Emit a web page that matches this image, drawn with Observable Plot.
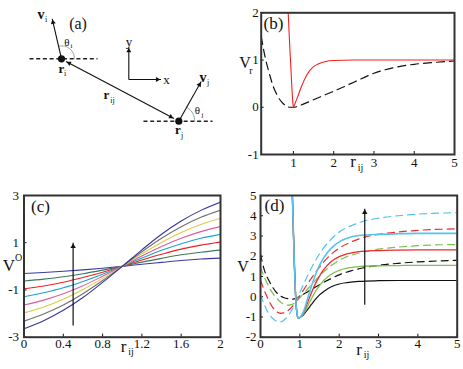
<!DOCTYPE html>
<html><head><meta charset="utf-8">
<script src="https://cdn.jsdelivr.net/npm/d3@7"></script>
<script src="https://cdn.jsdelivr.net/npm/@observablehq/plot@0.6"></script>
<style>
body{margin:0;background:#fff;}
#fig{position:relative;width:463px;height:369px;overflow:hidden;background:#fff;}
#fig svg{position:absolute;}
</style></head><body><div id="fig"></div>
<script>
// ---------- panel (a): schematic (diagram units) ----------
const diagParticles = [{x:61,y:58.3},{x:178.3,y:120.7}];
const diagDashed = [{x1:29,y1:58.3,x2:97,y2:58.3},{x1:143,y1:120.7,x2:212,y2:120.7}];
const diagArrows = [
  {x1:61,y1:58.3,x2:51.7,y2:18.3},
  {x1:178.3,y1:120.7,x2:200.7,y2:81},
  {x1:128.3,y1:79,x2:128.3,y2:46.7},
  {x1:128.3,y1:79,x2:160.5,y2:79},
  {x1:119.6,y1:89.5,x2:65.5,y2:61},
  {x1:119.6,y1:89.5,x2:173.5,y2:118}
];
const thetaIArc = [{x:58.7,y:45.5},{x:64.4,y:45.7},{x:69.4,y:48.3},{x:72.8,y:52.8},{x:74,y:58.3}];
const thetaJArc = [{x:186.3,y:106.8},{x:190.6,y:110.4},{x:193.3,y:115.2},{x:194.3,y:120.7}];

// ---------- panel (b) ----------
const bXTicks = [1,2,3,4,5];
const bYTicks = [-1,0,1,2];
const bRedX = [0.87,0.9,0.93,0.96,0.99,1.0,1.05,1.1,1.2,1.3,1.4,1.5,1.6,1.8,2.0,2.5,3,4,5];
const bRedY = [2.0,1.45,0.95,0.45,0.06,0.0,0.1,0.21,0.44,0.63,0.77,0.86,0.91,0.97,0.99,1.0,1.0,1.0,1.0];
const bDashX = [0.2,0.3,0.4,0.5,0.6,0.7,0.8,0.9,1.0,1.2,1.5,2.0,2.5,3.0,3.5,4.0,4.5,5.0];
const bDashY = [1.5,1.05,0.72,0.44,0.25,0.12,0.04,0.0,0.0,0.05,0.16,0.34,0.53,0.72,0.84,0.91,0.95,0.98];

// ---------- panel (c) ----------
const cXTicks = [0,0.4,0.8,1.2,1.6,2];
const cYTicks = [-3,-1,1,3];
const cX = [0,0.2,0.4,0.6,0.8,1.0,1.2,1.4,1.6,1.8,2.0];
const c1 = [-0.30,-0.26,-0.21,-0.15,-0.08,0,0.09,0.17,0.25,0.31,0.35];
const c2 = [-0.62,-0.54,-0.44,-0.31,-0.16,0,0.18,0.34,0.49,0.60,0.69];
const c3 = [-0.95,-0.83,-0.67,-0.47,-0.25,0,0.27,0.51,0.73,0.90,1.03];
const c4 = [-1.29,-1.12,-0.91,-0.64,-0.33,0,0.35,0.68,0.96,1.19,1.36];
const c5 = [-1.64,-1.43,-1.16,-0.82,-0.42,0,0.44,0.84,1.19,1.47,1.69];
const c6 = [-1.97,-1.72,-1.39,-0.98,-0.51,0,0.53,1.01,1.43,1.77,2.03];
const c7 = [-2.32,-2.02,-1.64,-1.16,-0.60,0,0.62,1.19,1.68,2.08,2.38];
const c8 = [-2.64,-2.30,-1.86,-1.32,-0.68,0,0.70,1.36,1.92,2.37,2.72];
const cSeries = [c1,c2,c3,c4,c5,c6,c7,c8];
const cColors = ["#3b3ba0","#3a7a5a","#f02020","#1aa3d1","#d9609c","#d9cd45","#707070","#3535a0"];
const cArrow = [{x:0.5,y1:-2.5,y2:1.0}];

// ---------- panel (d) ----------
const dXTicks = [0,1,2,3,4,5];
const dYTicks = [-2,-1,0,1,2,3,4,5];
const dSolidX = [0.81,0.83,0.85,0.87,0.89,0.91,0.93,0.95,0.97,1.0,1.05,1.1,1.2,1.3,1.4,1.5,1.6,1.8,2.0,2.2,2.5,3.0,3.5,4.0,5.0];
const dWall = [5.0,3.6,2.3,1.1,0.15,-0.5,-0.88,-1.03,-1.07,-1.03];
const dSolidBlack = [...dWall,-0.97,-0.88,-0.63,-0.37,-0.12,0.09,0.25,0.49,0.63,0.70,0.76,0.79,0.80,0.80,0.80];
const dSolidGreen = [...dWall,-0.95,-0.83,-0.46,-0.08,0.27,0.55,0.79,1.11,1.30,1.41,1.49,1.53,1.54,1.55,1.55];
const dSolidRed   = [...dWall,-0.93,-0.76,-0.28,0.22,0.66,1.02,1.32,1.74,1.98,2.12,2.23,2.28,2.30,2.31,2.31];
const dSolidCyan  = [...dWall,-0.91,-0.70,-0.08,0.55,1.10,1.55,1.90,2.40,2.71,2.89,3.02,3.08,3.11,3.13,3.13];
const dDashX = [0,0.1,0.2,0.3,0.4,0.5,0.6,0.7,0.8,0.9,1.0,1.2,1.4,1.6,1.8,2.0,2.3,2.6,3.0,3.5,4.0,5.0];
const dDashBlack = [2.1,1.3,0.85,0.5,0.22,0.05,-0.05,-0.1,-0.12,-0.08,0.02,0.25,0.48,0.7,0.9,1.08,1.28,1.42,1.55,1.65,1.72,1.8];
const dDashGreen = [1.45,0.95,0.55,0.2,-0.05,-0.25,-0.38,-0.42,-0.38,-0.25,-0.05,0.38,0.82,1.22,1.54,1.8,2.05,2.2,2.35,2.45,2.52,2.58];
const dDashRed   = [0.8,0.3,-0.15,-0.5,-0.72,-0.82,-0.8,-0.68,-0.5,-0.25,0.05,0.65,1.2,1.7,2.1,2.4,2.7,2.92,3.08,3.2,3.28,3.35];
const dDashCyan  = [0.1,-0.4,-0.8,-1.05,-1.2,-1.25,-1.15,-0.95,-0.65,-0.25,0.2,1.05,1.8,2.4,2.85,3.2,3.5,3.72,3.88,4.0,4.08,4.15];
const dColors = {black:"#111111", green:"#7cc050", red:"#ee2a2a", cyan:"#55c3ec"};
const dArrow = [{x:2.65,y1:-0.4,y2:4.35}];

// ---------- helpers ----------
const SERIF = "'Liberation Serif','Times New Roman',serif";
const fig = document.getElementById("fig");
const zip = (xs, ys) => xs.map((x,i) => ({x, y: ys[i]}));
const fmt = d => String(d);

function place(svg, box){ svg.style.left = box.x+"px"; svg.style.top = box.y+"px"; fig.appendChild(svg); }
function lab(box, text, px, py, size, extra={}) {
  return Plot.text([text], {text: d=>d, frameAnchor:"top-left", dx: px-(box.x+box.ml), dy: py-(box.y+box.mt),
    fontSize: size, textAnchor:"middle", lineAnchor:"middle", fontFamily: SERIF, fill:"#111", ...extra});
}
function panel(box, opts, marks){
  const svg = Plot.plot({width: box.w, height: box.h, marginLeft: box.ml, marginRight: box.mr,
    marginTop: box.mt, marginBottom: box.mb,
    style:{fontFamily: SERIF, fontSize:"13px", background:"transparent", overflow:"visible", color:"#111"},
    ...opts, marks});
  place(svg, box);
}
function axes(xt, yt, xpad, ypad){
  return [
    Plot.axisX({ticks: xt, tickSize: -3, tickPadding: xpad, tickFormat: fmt, label: null, fontSize: 13}),
    Plot.axisY({ticks: yt, tickSize: -3, tickPadding: ypad, tickFormat: fmt, label: null, fontSize: 13})
  ];
}

// ---------- (a) ----------
{
  const box = {x:0,y:0,w:230,h:160,ml:0,mr:0,mt:0,mb:0};
  const heads = diagArrows.map(a => { const dx=a.x2-a.x1, dy=a.y2-a.y1, L=Math.hypot(dx,dy);
    return {x:a.x2-dx/L*3.6, y:a.y2-dy/L*3.6, rot: Math.atan2(dx,-dy)*180/Math.PI}; });
  panel(box, {x:{domain:[0,230],range:[0,230],axis:null}, y:{domain:[0,160],range:[0,160],axis:null}}, [
    Plot.link(diagDashed, {x1:"x1",y1:"y1",x2:"x2",y2:"y2", stroke:"#222", strokeWidth:1.4, strokeDasharray:"4,2.7"}),
    Plot.line(thetaIArc, {x:"x",y:"y", curve:"catmull-rom", stroke:"#888", strokeWidth:0.8}),
    Plot.line(thetaJArc, {x:"x",y:"y", curve:"catmull-rom", stroke:"#888", strokeWidth:0.8}),
    Plot.link(diagArrows, {x1:"x1",y1:"y1",x2:"x2",y2:"y2", stroke:"#111", strokeWidth:1.1}),
    Plot.dot(heads, {x:"x",y:"y", symbol:"triangle2", r:2.4, rotate:"rot", fill:"#111", stroke:"none"}),
    Plot.dot(diagParticles, {x:"x",y:"y", r:3.6, fill:"#111", stroke:"none"}),
    lab(box,"(a)",77.5,23,16),
    lab(box,"v",40.5,14,14,{fontWeight:"bold"}), lab(box,"i",45.5,18.5,8),
    lab(box,"θ",66.5,41.5,11), lab(box,"i",71,45.5,7),
    lab(box,"r",61,68,13,{fontWeight:"bold"}), lab(box,"i",64.5,72.5,8),
    lab(box,"y",128.5,41,13), lab(box,"x",166,79.5,13),
    lab(box,"r",106,94.5,13,{fontWeight:"bold"}), lab(box,"ij",112,99.5,8),
    lab(box,"v",202.5,77,14,{fontWeight:"bold"}), lab(box,"j",207.5,82,8),
    lab(box,"θ",197,110,11), lab(box,"j",202,114.5,7),
    lab(box,"r",177.5,129.5,13,{fontWeight:"bold"}), lab(box,"j",181.5,134.5,8)
  ]);
}

// ---------- (b) ----------
{
  const box = {x:230,y:0,w:233,h:185,ml:30.7,mr:9,mt:12.3,mb:31};
  panel(box, {x:{domain:[0.2,5]}, y:{domain:[-1,2]}}, [
    ...axes(bXTicks, bYTicks, 6.3, 5.5),
    Plot.line(zip(bDashX,bDashY), {x:"x",y:"y", curve:"monotone-x", stroke:"#111", strokeWidth:1.2, strokeDasharray:"8,5", clip:true}),
    Plot.line(zip(bRedX,bRedY), {x:"x",y:"y", curve:"monotone-x", stroke:"#ee2222", strokeWidth:1.1, clip:true}),
    Plot.frame({stroke:"#333", strokeWidth:2}),
    lab(box,"(b)",273,23.5,17),
    lab(box,"V",244.5,62,16), lab(box,"r",250.5,70,10),
    lab(box,"r",352.5,161,17), lab(box,"ij",360,167,10)
  ]);
}

// ---------- (c) ----------
{
  const box = {x:0,y:180,w:232,h:189,ml:23.5,mr:12,mt:15,mb:32.3};
  const lines = cSeries.map((s,i) => Plot.line(zip(cX,s), {x:"x",y:"y", curve:"monotone-x", stroke:cColors[i], strokeWidth:1.1, clip:true}));
  panel(box, {x:{domain:[0,2]}, y:{domain:[-3,3]}}, [
    ...axes(cXTicks, cYTicks, 5, 8),
    ...lines,
    Plot.link(cArrow, {x1:"x",x2:"x",y1:"y1",y2:"y2", stroke:"#111", strokeWidth:1.2}),
    Plot.dot(cArrow, {x:"x",y:"y2", symbol:"triangle2", r:2.6, dy:3.8, fill:"#111", stroke:"none"}),
    Plot.frame({stroke:"#333", strokeWidth:2}),
    lab(box,"(c)",40,206,17),
    lab(box,"V",8.3,265,17), lab(box,"O",18,257,10),
    lab(box,"r",123,346,17), lab(box,"ij",130.5,351.5,10)
  ]);
}

// ---------- (d) ----------
{
  const box = {x:232,y:180,w:231,h:189,ml:28,mr:6.3,mt:15,mb:32.3};
  const dash = (ys,c) => Plot.line(zip(dDashX,ys), {x:"x",y:"y", curve:"monotone-x", stroke:c, strokeWidth:1.2, strokeDasharray:"7,5", clip:true});
  const solid = (ys,c,w) => Plot.line(zip(dSolidX,ys), {x:"x",y:"y", curve:"monotone-x", stroke:c, strokeWidth:w, clip:true});
  panel(box, {x:{domain:[0,5]}, y:{domain:[-2,5]}}, [
    ...axes(dXTicks, dYTicks, 5, 7),
    dash(dDashBlack, dColors.black), dash(dDashGreen, dColors.green), dash(dDashRed, dColors.red), dash(dDashCyan, dColors.cyan),
    solid(dSolidBlack, dColors.black, 1.2), solid(dSolidGreen, dColors.green, 1.3), solid(dSolidRed, dColors.red, 1.3), solid(dSolidCyan, dColors.cyan, 1.6),
    Plot.link(dArrow, {x1:"x",x2:"x",y1:"y1",y2:"y2", stroke:"#111", strokeWidth:1.2}),
    Plot.dot(dArrow, {x:"x",y:"y2", symbol:"triangle2", r:2.6, dy:3.8, fill:"#111", stroke:"none"}),
    Plot.frame({stroke:"#333", strokeWidth:2}),
    lab(box,"(d)",274,205,17),
    lab(box,"V",242.5,266.5,16),
    lab(box,"r",358.7,349,17), lab(box,"ij",366,354.5,10)
  ]);
}
</script></body></html>
